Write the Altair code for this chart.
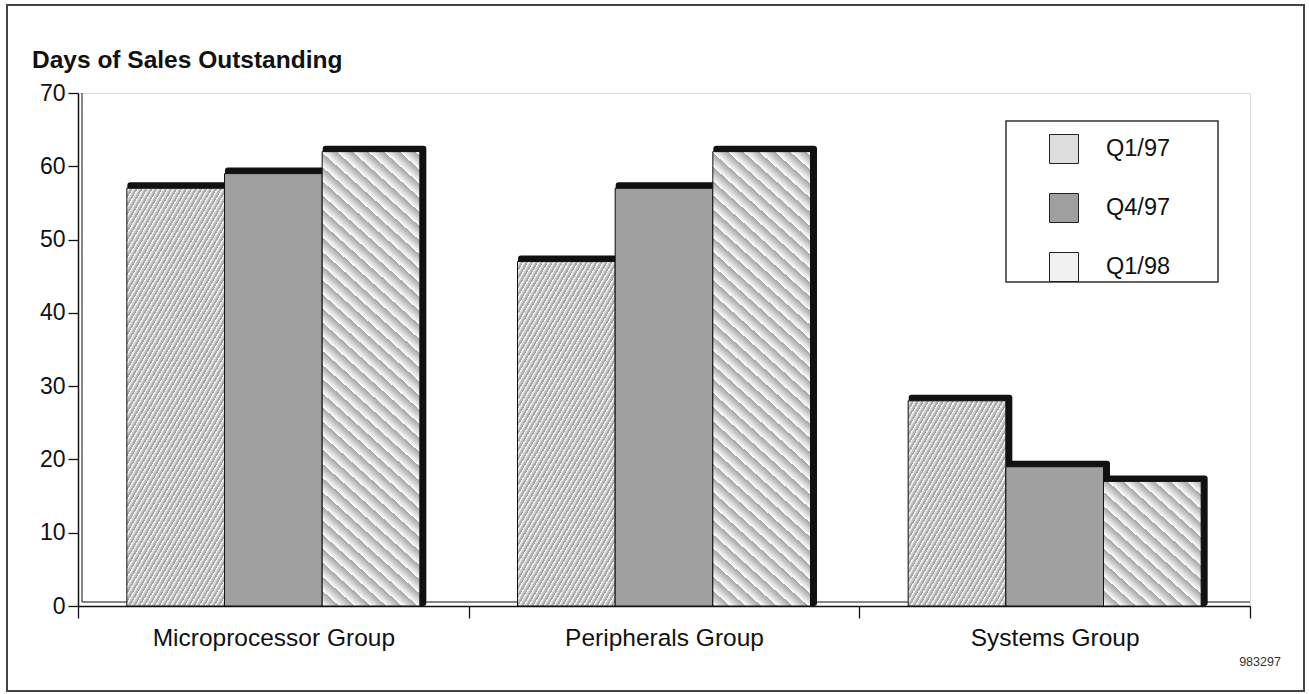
import math
import altair as alt
import pandas as pd

# ---- data ----
groups = ["Microprocessor Group", "Peripherals Group", "Systems Group"]
series = ["Q1/97", "Q4/97", "Q1/98"]
q1_97 = [57, 47, 28]
q4_97 = [59, 57, 19]
q1_98 = [62, 62, 17]
y_ticks = [0, 10, 20, 30, 40, 50, 60, 70]
title_text = ["Days of Sales Outstanding"]
fig_id = ["983297"]

W, H = 1172, 513
YMAX = 70
STEP = W / len(groups)

rows = []
for gi, g in enumerate(groups):
    for s, vals in zip(series, [q1_97, q4_97, q1_98]):
        rows.append({"group": g, "series": s, "value": vals[gi]})
df = pd.DataFrame(rows)

bar_w = STEP / 4.0


def stripe_gradient(w, h, theta_deg, period, lw, line, bg, backslash):
    th = math.radians(theta_deg)
    s, c = math.sin(th), math.cos(th)
    D = w * s + h * c
    k = D / (w * w * s * s + h * h * c * c)
    a, b = k * w * s, k * h * c
    stops = []
    n = int(math.ceil(D / period))
    for i in range(n):
        t0 = i * period / D
        t1 = min(1.0, t0 + lw / D)
        if t0 >= 1:
            break
        stops += [{"offset": round(t0, 5), "color": line},
                  {"offset": round(t1, 5), "color": line},
                  {"offset": round(t1, 5), "color": bg}]
    stops.append({"offset": 1, "color": bg})
    if backslash:
        return {"gradient": "linear", "x1": 0, "y1": 1, "x2": a, "y2": 1 - b, "stops": stops}
    return {"gradient": "linear", "x1": 0, "y1": 0, "x2": a, "y2": b, "stops": stops}


conds = []
for r in rows:
    h = r["value"] * H / YMAX
    if r["series"] == "Q1/97":
        grad = stripe_gradient(bar_w, h, 60, 4.3, 1.0, "#a6a6a6", "#ffffff", False)
    elif r["series"] == "Q1/98":
        grad = stripe_gradient(bar_w, h, 42, 10.5, 1.0, "#acacac", "#ffffff", True)
    else:
        continue
    conds.append({
        "test": f"datum.group === '{r['group']}' && datum.series === '{r['series']}'",
        "value": grad,
    })

FONT = "Liberation Sans"

x_enc = alt.X("group:N", sort=groups, scale=alt.Scale(paddingInner=0, paddingOuter=0),
              axis=alt.Axis(title=None, labelAngle=0, tickBand="extent", tickSize=12,
                            labelPadding=8, labelFontSize=24.5, labelFont=FONT, labelLimit=0,
                            labelColor="#111", domainColor="#111", domainWidth=1.5,
                            tickColor="#111", tickWidth=1.3))
y_enc = alt.Y("value:Q", scale=alt.Scale(domain=[0, YMAX], nice=False),
              axis=alt.Axis(values=y_ticks, title=None, grid=False, labelFontSize=23,
                            labelFont=FONT, labelColor="#111", tickSize=10, labelPadding=3,
                            domainColor="#111", domainWidth=1.5, tickColor="#111",
                            tickWidth=1.3))

base = alt.Chart(df)

shadow = base.mark_bar(fill="#111", stroke="#111", strokeWidth=6, strokeJoin="round",
                       yOffset=-3, y2Offset=-3).encode(
    x=x_enc,
    xOffset=alt.XOffset("series:N", sort=series,
                        scale=alt.Scale(paddingInner=0, paddingOuter=0.5,
                                        range=[3.5, STEP + 3.5])),
    y=y_enc)

fill_enc = {
    "field": "series", "type": "nominal",
    "scale": {"domain": series, "range": ["#dedede", "#a0a0a0", "#f1f1f1"]},
    "legend": {
        "title": None, "orient": "none", "legendX": 928, "legendY": 28,
        "padding": 13, "symbolOffset": 30,
        "symbolType": "square", "symbolSize": 841, "symbolStrokeColor": "#222",
        "symbolStrokeWidth": 1, "labelFontSize": 23.5, "labelFont": FONT,
        "labelColor": "#111", "labelOffset": 27, "rowPadding": 25,
    },
    "condition": conds,
}

face = base.mark_bar(stroke="#111", strokeWidth=1).encode(
    x=x_enc,
    xOffset=alt.XOffset("series:N", sort=series,
                        scale=alt.Scale(paddingInner=0, paddingOuter=0.5,
                                        range=[0, STEP])),
    y=y_enc, fill=fill_enc)

one = pd.DataFrame({"k": [0]})
floor = alt.Chart(one).mark_rule(color="#111", strokeWidth=1, yOffset=-4).encode(
    y=alt.datum(0), x=alt.value(4), x2=alt.value(W))
wall = alt.Chart(one).mark_rule(color="#111", strokeWidth=1).encode(
    x=alt.value(4), y=alt.value(0), y2=alt.value(H - 4))

frame = alt.Chart(one).mark_rect(fill=None, stroke="#444", strokeWidth=2).encode(
    x=alt.value(-71), x2=alt.value(1226), y=alt.value(-88), y2=alt.value(598))

legend_box = alt.Chart(one).mark_rect(fill="white", stroke="#333", strokeWidth=1.5).encode(
    x=alt.value(928), x2=alt.value(1140), y=alt.value(28), y2=alt.value(189))

title = alt.Chart(pd.DataFrame({"t": title_text})).mark_text(
    font=FONT, fontSize=24.5, fontWeight="bold", color="#111", align="left",
    baseline="alphabetic").encode(text="t:N", x=alt.value(-46), y=alt.value(-25))

idtext = alt.Chart(pd.DataFrame({"t": fig_id})).mark_text(
    font=FONT, fontSize=12.5, color="#333", align="center", baseline="middle").encode(
    text="t:N", x=alt.value(1182), y=alt.value(569))

chart = alt.layer(frame, legend_box, wall, floor, shadow, face, title, idtext).resolve_scale(
    xOffset="independent"
).properties(
    width=W, height=H,
    autosize=alt.AutoSizeParams(type="none"),
    padding={"left": 78, "top": 93, "right": 59, "bottom": 88},
    background="white",
).configure_view(stroke="#111", strokeWidth=1.5).configure(font=FONT)

chart.save("out.html", embed_options={"renderer": "svg", "actions": False})
